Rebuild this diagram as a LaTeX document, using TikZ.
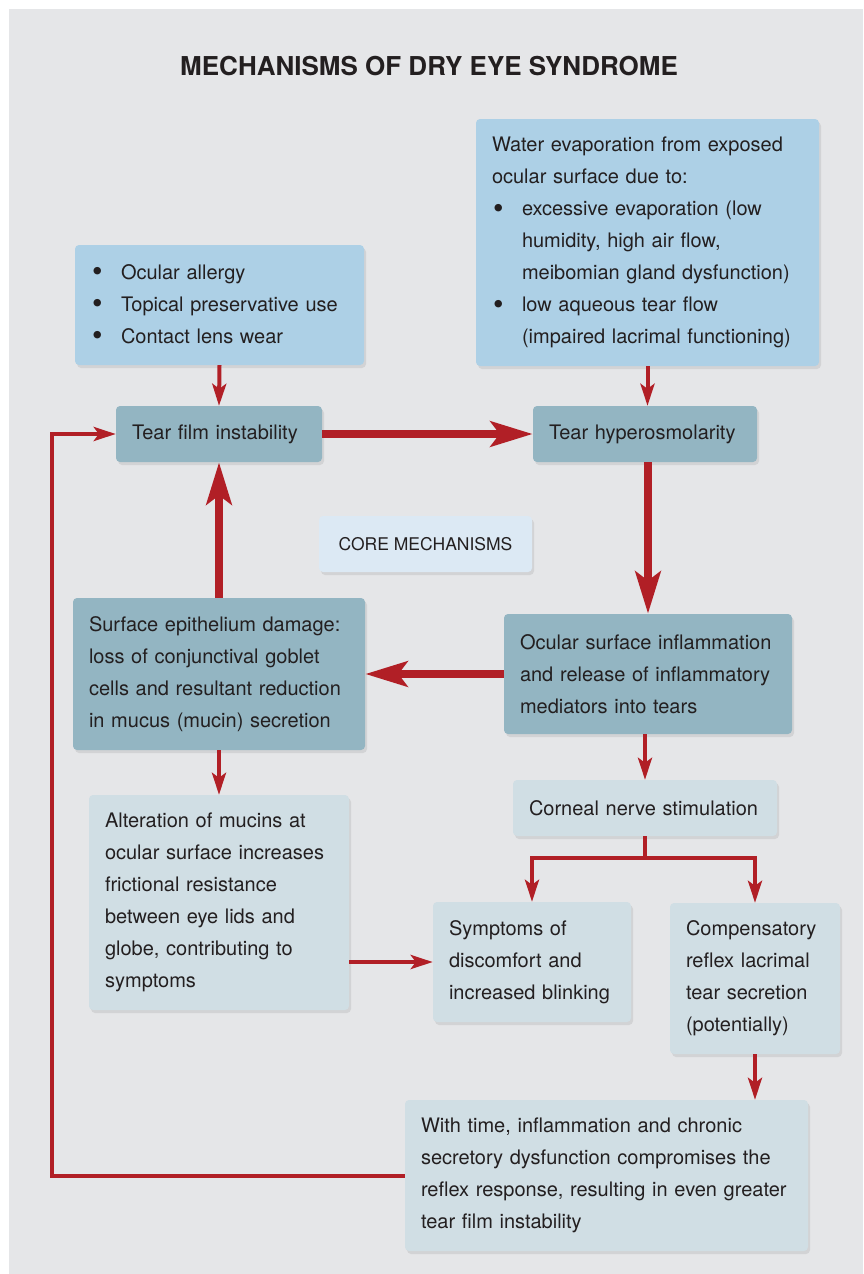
\documentclass[tikz,border=0pt]{standalone}
\usepackage{fontspec}
\setmainfont{TeX Gyre Heros}
\usetikzlibrary{arrows.meta}
\usetikzlibrary{positioning}
\usetikzlibrary{shadows}

\definecolor{pagegray}{HTML}{E5E6E8}
\definecolor{skyblue}{HTML}{ADD0E6}
\definecolor{tealbox}{HTML}{93B5C2}
\definecolor{palebox}{HTML}{D0DEE4}
\definecolor{corebox}{HTML}{DCE9F4}
\definecolor{arrowred}{HTML}{B11F26}
\definecolor{ink}{HTML}{231F20}

\newcommand{\bul}{\makebox[30pt][l]{\hspace{1pt}\raisebox{-2.5pt}{\fontsize{30}{32}\selectfont\textbullet}}}
\newcommand{\bulgap}{\hspace*{30pt}}

\begin{document}
\begin{tikzpicture}[x=1pt,y=-1pt,line join=miter,
			font=\fontsize{20}{32}\selectfont]
			\tikzstyle{box}=[rectangle,rounded corners=4pt,inner xsep=16pt,inner ysep=0pt,
			align=left,text=ink,drop shadow={opacity=0.18,shadow xshift=2pt,shadow yshift=-3pt}]
			\tikzstyle{thinlink}=[draw=arrowred,line width=4pt,-{Stealth[length=22pt,width=14pt,inset=5pt]}]
			\tikzstyle{thicklink}=[draw=arrowred,line width=8.5pt,-{Stealth[length=42pt,width=25pt,inset=9pt]}]
			
			\useasboundingbox (0,0) rectangle (863,1274);
			\fill[white] (0,0) rectangle (863,1274);
			\fill[pagegray] (9,9) rectangle (863,1274);
			
			\node[font=\bfseries\fontsize{26}{30}\selectfont,text=ink] (title) at (429,66) {MECHANISMS OF DRY EYE SYNDROME};
			
			\node[box,fill=skyblue,text width=257pt,minimum height=120pt] (triggers) at (219.5,305)
			{\bul Ocular allergy\\ \bul Topical preservative use\\ \bul Contact lens wear};
			\node[box,fill=skyblue,text width=311pt,minimum height=247pt] (evap) at (647.5,242.5)
			{Water evaporation from exposed\\ ocular surface due to:\\
				\bul excessive evaporation (low\\ \bulgap humidity, high air flow,\\
				\bulgap meibomian gland dysfunction)\\ \bul low aqueous tear flow\\
				\bulgap (impaired lacrimal functioning)};
			
			\node[box,fill=tealbox,text width=174pt,minimum height=56pt] (tfi) at (219,434) {Tear film instability};
			\node[box,fill=tealbox,text width=192pt,minimum height=56pt] (hyper) at (645,434) {Tear hyperosmolarity};
			\node[box,fill=corebox,align=center,minimum width=213pt,minimum height=56pt,
			font=\fontsize{17.5}{20}\selectfont] (core) at (425.5,544) {CORE MECHANISMS};
			
			\node[box,fill=tealbox,text width=260pt,minimum height=152pt] (epith) at (219,674)
			{Surface epithelium damage:\\ loss of conjunctival goblet\\ cells and resultant reduction\\ in mucus (mucin) secretion};
			\node[box,fill=tealbox,text width=256pt,minimum height=120pt] (inflam) at (648,674)
			{Ocular surface inflammation\\ and release of inflammatory\\ mediators into tears};
			
			\node[box,fill=palebox,text width=232pt,minimum height=56pt] (corneal) at (645,808) {Corneal nerve stimulation};
			\node[box,fill=palebox,text width=228pt,minimum height=215pt] (mucins) at (219,902.5)
			{Alteration of mucins at\\ ocular surface increases\\ frictional resistance\\ between eye lids and\\ globe, contributing to\\ symptoms};
			\node[box,fill=palebox,text width=166pt,minimum height=120pt] (sympt) at (532,962)
			{Symptoms of\\ discomfort and\\ increased blinking};
			\node[box,fill=palebox,text width=138pt,minimum height=151pt] (comp) at (755,978.5)
			{Compensatory\\ reflex lacrimal\\ tear secretion\\ (potentially)};
			\node[box,fill=palebox,text width=371pt,minimum height=151pt] (time) at (606.5,1175.5)
			{With time, inflammation and chronic\\ secretory dysfunction compromises the\\ reflex response, resulting in even greater\\ tear film instability};
			
			\coordinate (split) at (645,858);
			\coordinate (back) at (52,0);
			
			% core loop
			\draw[thicklink] (tfi.east) -- (hyper.west);
			\draw[thicklink] (hyper.south -| inflam.north) -- (inflam.north);
			\draw[thicklink] (inflam.west) -- (epith.east);
			\draw[thicklink] (epith.north) -- (tfi.south);
			
			% causes and outcomes
			\draw[thinlink] (triggers.south) -- (tfi.north);
			\draw[thinlink] (evap.south) -- (evap.south |- hyper.north);
			\draw[thinlink] (epith.south) -- (mucins.north);
			\draw[thinlink] (inflam.south -| corneal.north) -- (corneal.north);
			\draw[draw=arrowred,line width=4pt] (corneal.south) -- (split);
			\draw[thinlink] (split) -| (sympt.north);
			\draw[thinlink] (split) -| (comp.north);
			\draw[thinlink] (mucins.east |- sympt.west) -- (sympt.west);
			\draw[thinlink] (comp.south) -- (comp.south |- time.north);
			\draw[thinlink] (time.west) -- (time.west -| back) |- (tfi.west);
\end{tikzpicture}
\end{document}
